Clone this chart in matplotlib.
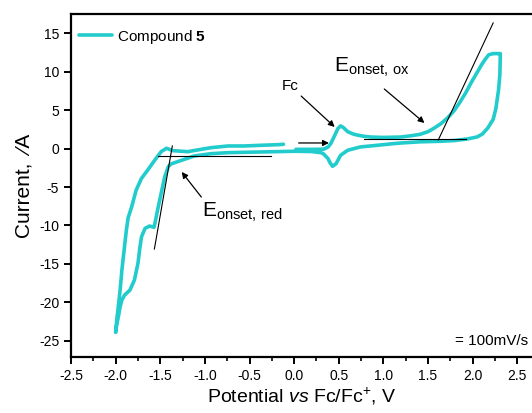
import matplotlib
matplotlib.use("Agg")
import matplotlib.pyplot as plt
from matplotlib.ticker import MultipleLocator, FormatStrFormatter

plt.rcParams["font.family"] = ["Liberation Sans", "DejaVu Sans"]
plt.rcParams["mathtext.fontset"] = "custom"
plt.rcParams["mathtext.rm"] = "Liberation Sans"
plt.rcParams["mathtext.it"] = "Liberation Sans:italic"
plt.rcParams["mathtext.bf"] = "Liberation Sans:bold"
plt.rcParams["axes.unicode_minus"] = False

# CV trace of compound 5 in scan order: start near 0 V, anodic sweep to +2.3 V,
# back through the Fc couple down to -2.0 V, then up again.
potential = [
    0.02, 0.20, 0.33, 0.38, 0.41, 0.45, 0.49, 0.52, 0.55, 0.60, 0.66, 0.71,
    0.78, 0.86, 1.00, 1.19, 1.30, 1.41, 1.50, 1.56, 1.64, 1.72, 1.79, 1.85,
    1.92, 1.98, 2.04, 2.10, 2.14, 2.18, 2.23, 2.31,
    2.31, 2.305, 2.29, 2.26, 2.23, 2.17, 2.11, 2.05, 1.94, 1.80, 1.64, 1.41,
    1.19, 1.11, 0.95, 0.74, 0.60, 0.52, 0.47, 0.43, 0.40, 0.38, 0.33, 0.30,
    0.19, 0.00, -0.37, -0.74, -0.93, -1.12, -1.26, -1.38, -1.41, -1.45,
    -1.49, -1.53, -1.56, -1.57, -1.62, -1.67, -1.71, -1.73, -1.75, -1.79,
    -1.84, -1.90, -1.93, -1.95, -1.97, -1.99, -2.00,
    -1.985, -1.97, -1.95, -1.93, -1.905, -1.88, -1.86, -1.82, -1.77, -1.71,
    -1.64, -1.56, -1.49, -1.43, -1.36, -1.19, -1.12, -0.93, -0.74, -0.56,
    -0.37, -0.18, -0.12,
]
current = [
    -0.10, -0.10, -0.08, 0.20, 0.64, 1.60, 2.60, 2.95, 2.75, 2.20, 1.90, 1.75,
    1.60, 1.50, 1.45, 1.50, 1.65, 1.85, 2.20, 2.60, 3.20, 4.00, 4.90, 5.90,
    7.20, 8.50, 9.70, 10.90, 11.60, 12.20, 12.35, 12.35,
    12.10, 9.60, 7.60, 5.20, 3.80, 2.68, 1.90, 1.51, 1.25, 1.05, 0.95, 0.88,
    0.72, 0.64, 0.45, 0.21, -0.22, -0.87, -1.96, -2.30, -1.80, -1.31, -0.70,
    -0.53, -0.38, -0.35, -0.44, -0.53, -0.66, -0.96, -1.52, -2.00, -2.36,
    -3.66, -5.82, -7.99, -9.72, -10.24, -10.07, -10.37, -11.46, -13.00,
    -14.93, -17.10, -18.40, -19.05, -19.70, -20.57, -21.90, -23.00, -23.90,
    -22.00, -20.50, -18.40, -15.80, -13.20, -10.60, -9.00, -7.56, -5.39,
    -3.87, -2.78, -1.48, -0.40, 0.04, -0.27, -0.40, -0.25, 0.12, 0.34, 0.34,
    0.43, 0.51, 0.56,
]

# tangent / baseline pairs for the onset potentials
red_slope_E = [-1.365, -1.566]
red_slope_I = [0.34, -13.06]
red_base_E = [-1.525, -0.26]
red_base_I = [-0.90, -0.90]
ox_slope_E = [2.23, 1.615]
ox_slope_I = [16.34, 1.12]
ox_base_E = [0.78, 1.92]
ox_base_I = [1.25, 1.25]

fig = plt.figure(figsize=(5.32, 4.13), dpi=100)
ax = fig.add_axes([0.1335, 0.1356, 0.8665, 0.8305])

ax.plot(potential, current, color="#22cccc", lw=2.6, solid_joinstyle="round",
        solid_capstyle="round", label=r"Compound $\mathbf{5}$")

for xs, ys in [(red_slope_E, red_slope_I), (red_base_E, red_base_I),
               (ox_slope_E, ox_slope_I), (ox_base_E, ox_base_I)]:
    ax.plot(xs, ys, color="black", lw=0.8)

arrow = dict(arrowstyle="-|>", color="black", lw=0.9, mutation_scale=9,
             shrinkA=0, shrinkB=0)
ax.annotate("Fc", xy=(0.454, 2.81), xytext=(-0.04, 8.1), fontsize=11,
            ha="center", va="center", arrowprops=arrow)
ax.annotate("", xy=(0.39, 0.73), xytext=(0.05, 0.73), arrowprops=arrow)
ax.annotate("", xy=(1.46, 3.33), xytext=(1.01, 7.75), arrowprops=arrow)
ax.annotate("", xy=(-1.26, -3.04), xytext=(-1.04, -6.30), arrowprops=arrow)

ax.text(0.45, 10.0, r"E$_{\mathrm{onset,\,ox}}$", fontsize=15, ha="left",
        va="baseline")
ax.text(-1.03, -8.9, r"E$_{\mathrm{onset,\,red}}$", fontsize=15, ha="left",
        va="baseline")
ax.text(1.80, -25.6, "= 100mV/s", fontsize=11, ha="left", va="baseline")

ax.set_xlim(-2.5, 2.665)
ax.set_ylim(-27.1, 17.5)
ax.xaxis.set_major_locator(MultipleLocator(0.5))
ax.xaxis.set_minor_locator(MultipleLocator(0.25))
ax.yaxis.set_major_locator(MultipleLocator(5))
ax.xaxis.set_major_formatter(FormatStrFormatter("%.1f"))

ax.spines["right"].set_visible(False)
for side in ["left", "bottom", "top"]:
    ax.spines[side].set_linewidth(1.6)
ax.tick_params(which="major", direction="out", length=5, width=1.4,
               labelsize=10, top=False, right=False)
ax.tick_params(which="minor", direction="out", length=3, width=1.2,
               top=False, right=False)
ax.tick_params(axis="y", which="minor", left=False)

ax.set_xlabel(r"Potential $\it{vs}$ Fc/Fc$^{+}$, V", fontsize=14, labelpad=2)
ax.set_ylabel("Current, \u00a0\u2044A", fontsize=15, labelpad=4)

ax.legend(loc="upper left", frameon=False, fontsize=11, handlelength=2.1,
          handletextpad=0.35, borderaxespad=0.15,
          bbox_to_anchor=(0.0, 0.985))

fig.savefig("out.png", dpi=100)
